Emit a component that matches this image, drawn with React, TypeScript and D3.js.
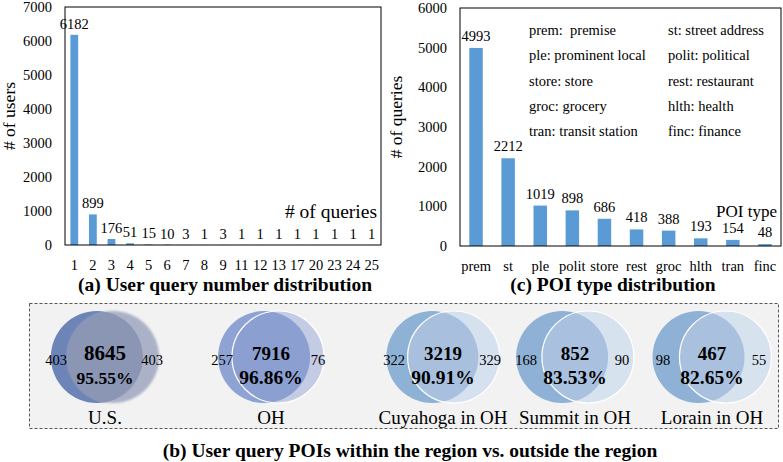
import React from "react";
import * as d3 from "d3";

// (a) user query number distribution
const queryCounts = ["1", "2", "3", "4", "5", "6", "7", "8", "9", "11", "12", "13", "17", "20", "23", "24", "25"];
const userCounts = [6182, 899, 176, 51, 15, 10, 3, 1, 3, 1, 1, 1, 1, 1, 1, 1, 1];
const usersTicks = [0, 1000, 2000, 3000, 4000, 5000, 6000, 7000];

// (c) POI type distribution
const poiTypes = ["prem", "st", "ple", "polit", "store", "rest", "groc", "hlth", "tran", "finc"];
const poiQueries = [4993, 2212, 1019, 898, 686, 418, 388, 193, 154, 48];
const queriesTicks = [0, 1000, 2000, 3000, 4000, 5000, 6000];
const legendLeft = ["prem:  premise", "ple: prominent local", "store: store", "groc: grocery", "tran: transit station"];
const legendRight = ["st: street address", "polit: political", "rest: restaurant", "hlth: health", "finc: finance"];

// (b) POIs within vs outside the region
const regions = ["U.S.", "OH", "Cuyahoga in OH", "Summit in OH", "Lorain in OH"];
const insideCounts = [8645, 7916, 3219, 852, 467];
const insidePct = ["95.55%", "96.86%", "90.91%", "83.53%", "82.65%"];
const outsideLeft = [403, 257, 322, 168, 98];
const outsideRight = [403, 76, 329, 90, 55];

const FONT = '"Liberation Serif", "Times New Roman", Times, serif';
const BAR = "#5b9bd5";

const vennStyles = [
  { left: "#6d84b7", overlap: "#8b96b5", right: "#abb2c8", blur: true },
  { left: "#8fa2d4", overlap: "#8c9fd1", right: "#c3cbe5", blur: false },
  { left: "#8eb1d6", overlap: "#a8c0de", right: "#d6e1ef", blur: false },
  { left: "#8fb1d5", overlap: "#a9c1de", right: "#d7e2ef", blur: false },
  { left: "#8fb1d5", overlap: "#a9c1de", right: "#d7e2ef", blur: false },
];

function BarPanel({ cats, values, ticks, box, yLabel, xTitle, labelGap, labelX, labelY }) {
  const x = d3.scaleBand().domain(cats).range([box.x0, box.x1]).paddingInner(0.58).paddingOuter(0.29);
  const y = d3.scaleLinear().domain([0, ticks[ticks.length - 1]]).range([box.y1, box.y0]);
  return (
    <g>
      {cats.map((c, i) => (
        <rect key={c} x={x(c)} y={y(values[i])} width={x.bandwidth()} height={box.y1 - y(values[i])} fill={BAR} />
      ))}
      {cats.map((c, i) => (
        <text key={"v" + c} x={x(c) + x.bandwidth() / 2} y={y(values[i]) - labelGap} textAnchor="middle" fontSize={14.5}>
          {values[i]}
        </text>
      ))}
      <rect x={box.x0} y={box.y0} width={box.x1 - box.x0} height={box.y1 - box.y0} fill="none" stroke="#000" strokeWidth={1} />
      {ticks.map(t => (
        <text key={t} x={box.x0 - 13} y={y(t) + 5} textAnchor="end" fontSize={14.5}>{t}</text>
      ))}
      {cats.map(c => (
        <text key={"x" + c} x={x(c) + x.bandwidth() / 2} y={box.y1 + 25} textAnchor="middle" fontSize={14.5}>{c}</text>
      ))}
      <text transform={`translate(${labelX},${(box.y0 + box.y1) / 2 - 10}) rotate(-90)`} textAnchor="middle" fontSize={17.5}>
        {yLabel}
      </text>
      <text x={box.x1 - 4} y={labelY} textAnchor="end" fontSize={xTitle.size}>{xTitle.text}</text>
    </g>
  );
}

function Venn() {
  const cx = d3.scaleOrdinal<string, number>().domain(regions).range([105, 271, 443, 575, 712]);
  const sep = d3.scaleLinear().domain([0, 0.35]).range([12, 28]);
  const cy = 357;
  const r = 46;
  return (
    <g>
      <defs>
        <filter id="soft" x="-20%" y="-20%" width="140%" height="140%">
          <feGaussianBlur stdDeviation={1.3} />
        </filter>
        {regions.map((g, i) => {
          const s = sep((outsideLeft[i] + outsideRight[i]) / insideCounts[i]);
          return (
            <clipPath key={g} id={"cl" + i}>
              <circle cx={cx(g) - s / 2} cy={cy} r={r} />
            </clipPath>
          );
        })}
      </defs>
      <rect x={29.5} y={303.5} width={749} height={125} fill="#f2f2f2" stroke="#555" strokeDasharray="3,2" />
      {regions.map((g, i) => {
        const s = sep((outsideLeft[i] + outsideRight[i]) / insideCounts[i]);
        const st = vennStyles[i];
        const lx = cx(g) - s / 2;
        const rx = cx(g) + s / 2;
        return (
          <g key={g}>
            <circle cx={lx} cy={cy} r={r} fill={st.left} />
            <circle cx={rx} cy={cy} r={r} fill={st.right} filter={st.blur ? "url(#soft)" : undefined} />
            <g clipPath={`url(#cl${i})`}>
              <circle cx={rx} cy={cy} r={r} fill={st.overlap} />
            </g>
            {!st.blur && <circle cx={rx} cy={cy} r={r} fill="none" stroke="#fff" strokeWidth={1.2} />}
            <text x={cx(g)} y={cy + 3} textAnchor="middle" fontWeight="bold" fontSize={i === 0 ? 21 : 19}>
              {insideCounts[i]}
            </text>
            <text x={cx(g)} y={cy + 27} textAnchor="middle" fontWeight="bold" fontSize={i === 0 ? 17.5 : 19.5}>
              {insidePct[i]}
            </text>
            <text x={cx(g) - 49} y={cy + 8} textAnchor="middle" fontSize={14.5}>{outsideLeft[i]}</text>
            <text x={cx(g) + 47} y={cy + 8} textAnchor="middle" fontSize={14.5}>{outsideRight[i]}</text>
            <text x={cx(g)} y={424} textAnchor="middle" fontSize={19}>{g}</text>
          </g>
        );
      })}
    </g>
  );
}

export default function App() {
  return (
    <svg width={783} height={462} style={{ position: "absolute", left: 0, top: 0, background: "#fff", fontFamily: FONT }}>
      <BarPanel
        cats={queryCounts}
        values={userCounts}
        ticks={usersTicks}
        box={{ x0: 65, x1: 381, y0: 7, y1: 245 }}
        yLabel="# of users"
        xTitle={{ text: "# of queries", size: 19.5 }}
        labelGap={6}
        labelX={15}
        labelY={218}
      />
      <BarPanel
        cats={poiTypes}
        values={poiQueries}
        ticks={queriesTicks}
        box={{ x0: 460, x1: 781, y0: 8, y1: 246 }}
        yLabel="# of queries"
        xTitle={{ text: "POI type", size: 17 }}
        labelGap={7}
        labelX={402}
        labelY={217}
      />
      <g fontSize={14.5}>
        {legendLeft.map((t, i) => (
          <text key={t} x={529} y={35 + i * 25.3} style={{ whiteSpace: "pre" }}>{t}</text>
        ))}
        {legendRight.map((t, i) => (
          <text key={t} x={668} y={35 + i * 25.3}>{t}</text>
        ))}
      </g>
      <g fontWeight="bold" fontSize={19.5} textAnchor="middle">
        <text x={225} y={291}>(a) User query number distribution</text>
        <text x={613} y={291}>(c) POI type distribution</text>
        <text x={410} y={457}>(b) User query POIs within the region vs. outside the region</text>
      </g>
      <Venn />
    </svg>
  );
}
